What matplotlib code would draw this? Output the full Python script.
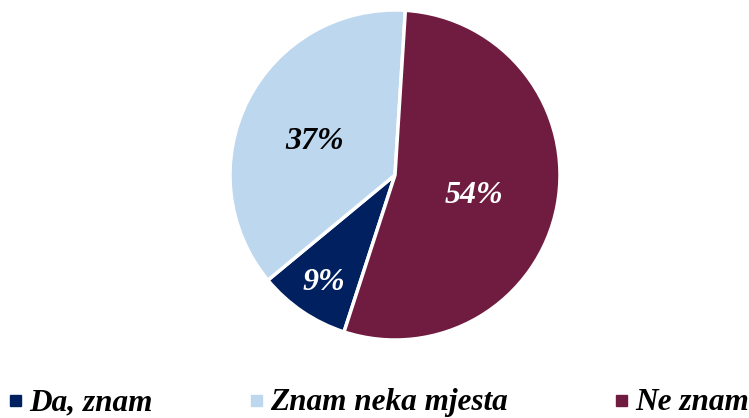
import matplotlib
matplotlib.use("Agg")
import matplotlib.pyplot as plt
import numpy as np

# data
labels = ["Da, znam", "Znam neka mjesta", "Ne znam"]
values = [9, 37, 54]
colors = ["#002060", "#BDD7EE", "#701C40"]
text_colors = ["white", "black", "white"]
# label placement: fraction of radius and angle shift from wedge middle
label_dist = [0.78, 0.53, 0.495]
label_shift = [0.8, 4.3, -3.7]

fig = plt.figure(figsize=(7.49, 4.18), dpi=100)
W, H = 749, 418

# pie axes: center (395, 175) from top, radius 165 px
ax = fig.add_axes([230 / W, 78 / H, 330 / W, 330 / H])
wedges, _ = ax.pie(values, colors=colors, startangle=-108, counterclock=False,
                   wedgeprops=dict(edgecolor="white", linewidth=2.5))
ax.set_xlim(-1, 1)
ax.set_ylim(-1, 1)
ax.set_aspect("equal")
ax.axis("off")

font = dict(family="Liberation Serif", weight="bold", style="italic")

# percentage labels
for w, v, c, d, s in zip(wedges, values, text_colors, label_dist, label_shift):
    ang = np.deg2rad((w.theta1 + w.theta2) / 2 + s)
    ax.text(d * np.cos(ang), d * np.sin(ang), f"{v}%", color=c,
            ha="center", va="center", fontsize=23, **font)

# legend, laid out like the original
leg_x = [10, 251, 616]
for x, lab, col in zip(leg_x, labels, colors):
    fig.patches.append(plt.Rectangle((x / W, 12 / H), 11 / W, 11 / H,
                                     transform=fig.transFigure, color=col))
    fig.text((x + 19) / W, 8 / H, lab, ha="left", va="baseline",
             fontsize=22.5, **font)

fig.savefig("out.png", dpi=100)
